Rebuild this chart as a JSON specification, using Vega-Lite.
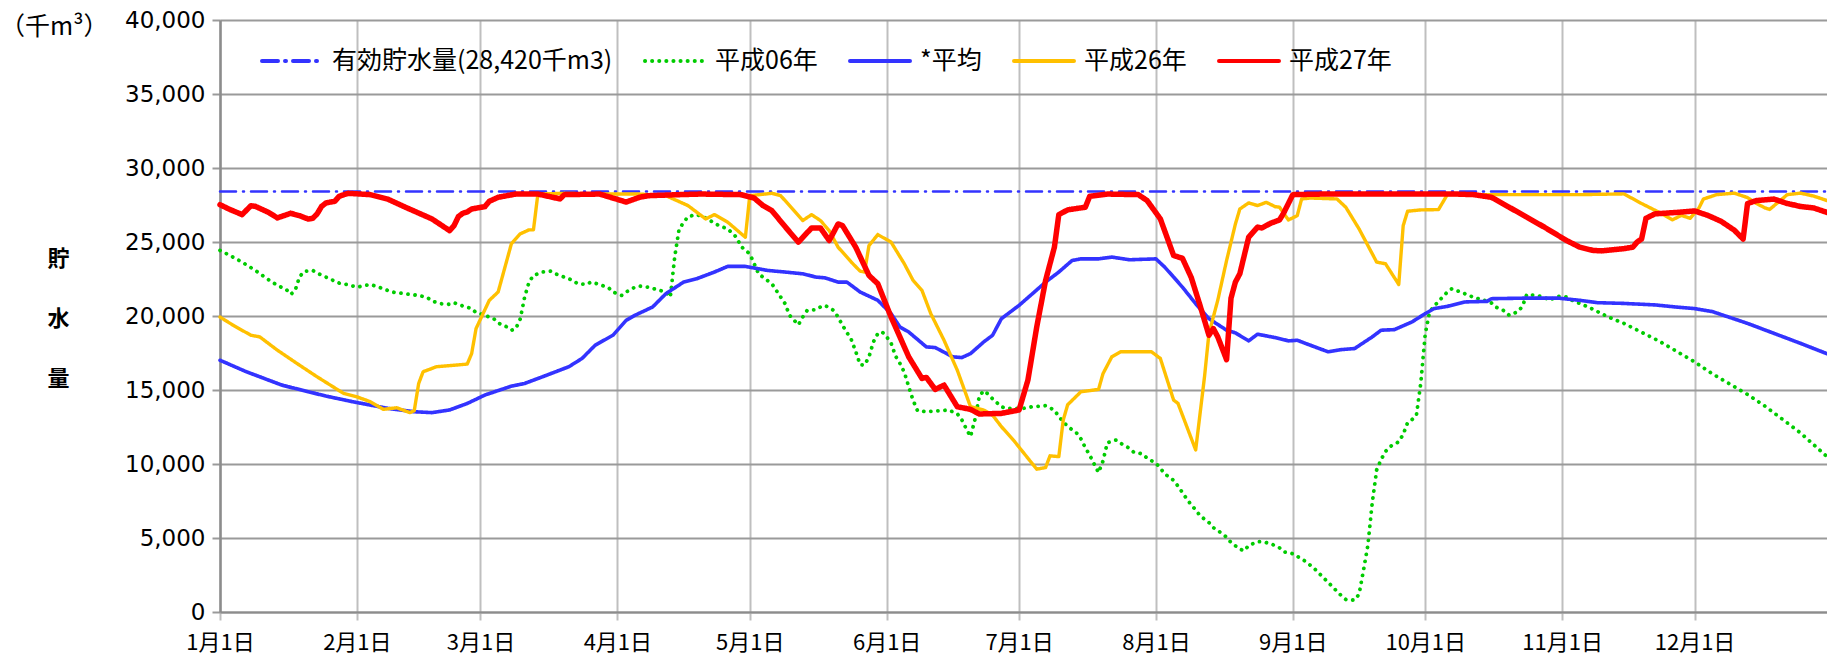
{
"$schema": "https://vega.github.io/schema/vega-lite/v6.json",
"width": 1607, "height": 592,
"autosize": "none",
"padding": {"left": 220, "top": 20, "right": 0, "bottom": 53},
"background": "white",
"title": {"text": "（千m³）", "anchor": "start", "frame": "group", "orient": "top", "offset": 0, "dx": -220, "dy": 31, "fontSize": 25, "font": "Noto Sans CJK JP", "fontWeight": "normal", "color": "#000000"},
"datasets": {
"main": [
{"date":"2015-01-01","series":"有効貯水量(28,420千m3)","value":28420},
{"date":"2015-12-31","series":"有効貯水量(28,420千m3)","value":28420},

{"date":"2015-01-01","series":"平成06年","value":24430},
{"date":"2015-01-03","series":"平成06年","value":24130},
{"date":"2015-01-06","series":"平成06年","value":23640},
{"date":"2015-01-09","series":"平成06年","value":23080},
{"date":"2015-01-12","series":"平成06年","value":22450},
{"date":"2015-01-14","series":"平成06年","value":22070},
{"date":"2015-01-16","series":"平成06年","value":21800},
{"date":"2015-01-17","series":"平成06年","value":21460},
{"date":"2015-01-18","series":"平成06年","value":21700},
{"date":"2015-01-19","series":"平成06年","value":22630},
{"date":"2015-01-20","series":"平成06年","value":23010},
{"date":"2015-01-22","series":"平成06年","value":23080},
{"date":"2015-01-23","series":"平成06年","value":22900},
{"date":"2015-01-25","series":"平成06年","value":22630},
{"date":"2015-01-28","series":"平成06年","value":22220},
{"date":"2015-01-30","series":"平成06年","value":22110},
{"date":"2015-02-01","series":"平成06年","value":21950},
{"date":"2015-02-03","series":"平成06年","value":22070},
{"date":"2015-02-04","series":"平成06年","value":22130},
{"date":"2015-02-06","series":"平成06年","value":21950},
{"date":"2015-02-09","series":"平成06年","value":21620},
{"date":"2015-02-13","series":"平成06年","value":21460},
{"date":"2015-02-15","series":"平成06年","value":21390},
{"date":"2015-02-17","series":"平成06年","value":21240},
{"date":"2015-02-18","series":"平成06年","value":21010},
{"date":"2015-02-20","series":"平成06年","value":20830},
{"date":"2015-02-22","series":"平成06年","value":20790},
{"date":"2015-02-23","series":"平成06年","value":20900},
{"date":"2015-02-25","series":"平成06年","value":20680},
{"date":"2015-02-27","series":"平成06年","value":20500},
{"date":"2015-02-28","series":"平成06年","value":20230},
{"date":"2015-03-02","series":"平成06年","value":20050},
{"date":"2015-03-04","series":"平成06年","value":19820},
{"date":"2015-03-05","series":"平成06年","value":19530},
{"date":"2015-03-07","series":"平成06年","value":19260},
{"date":"2015-03-08","series":"平成06年","value":19040},
{"date":"2015-03-09","series":"平成06年","value":19150},
{"date":"2015-03-10","series":"平成06年","value":19800},
{"date":"2015-03-11","series":"平成06年","value":21280},
{"date":"2015-03-12","series":"平成06年","value":22290},
{"date":"2015-03-13","series":"平成06年","value":22740},
{"date":"2015-03-15","series":"平成06年","value":22970},
{"date":"2015-03-17","series":"平成06年","value":23030},
{"date":"2015-03-18","series":"平成06年","value":22850},
{"date":"2015-03-20","series":"平成06年","value":22630},
{"date":"2015-03-22","series":"平成06年","value":22400},
{"date":"2015-03-23","series":"平成06年","value":22180},
{"date":"2015-03-25","series":"平成06年","value":22130},
{"date":"2015-03-26","series":"平成06年","value":22290},
{"date":"2015-03-28","series":"平成06年","value":22130},
{"date":"2015-03-30","series":"平成06年","value":21910},
{"date":"2015-03-31","series":"平成06年","value":21620},
{"date":"2015-04-02","series":"平成06年","value":21390},
{"date":"2015-04-03","series":"平成06年","value":21620},
{"date":"2015-04-05","series":"平成06年","value":21950},
{"date":"2015-04-06","series":"平成06年","value":22020},
{"date":"2015-04-08","series":"平成06年","value":21950},
{"date":"2015-04-10","series":"平成06年","value":21780},
{"date":"2015-04-12","series":"平成06年","value":21620},
{"date":"2015-04-13","series":"平成06年","value":21280},
{"date":"2015-04-14","series":"平成06年","value":24000},
{"date":"2015-04-15","series":"平成06年","value":25890},
{"date":"2015-04-17","series":"平成06年","value":26720},
{"date":"2015-04-19","series":"平成06年","value":26850},
{"date":"2015-04-21","series":"平成06年","value":26630},
{"date":"2015-04-22","series":"平成06年","value":26450},
{"date":"2015-04-24","series":"平成06年","value":26110},
{"date":"2015-04-26","series":"平成06年","value":25890},
{"date":"2015-04-28","series":"平成06年","value":25320},
{"date":"2015-04-29","series":"平成06年","value":24700},
{"date":"2015-05-01","series":"平成06年","value":24200},
{"date":"2015-05-02","series":"平成06年","value":23530},
{"date":"2015-05-03","series":"平成06年","value":22850},
{"date":"2015-05-05","series":"平成06年","value":22400},
{"date":"2015-05-06","series":"平成06年","value":22180},
{"date":"2015-05-07","series":"平成06年","value":21730},
{"date":"2015-05-08","series":"平成06年","value":21280},
{"date":"2015-05-09","series":"平成06年","value":20830},
{"date":"2015-05-10","series":"平成06年","value":20050},
{"date":"2015-05-12","series":"平成06年","value":19400},
{"date":"2015-05-13","series":"平成06年","value":19930},
{"date":"2015-05-14","series":"平成06年","value":20380},
{"date":"2015-05-16","series":"平成06年","value":20430},
{"date":"2015-05-17","series":"平成06年","value":20610},
{"date":"2015-05-18","series":"平成06年","value":20720},
{"date":"2015-05-20","series":"平成06年","value":20380},
{"date":"2015-05-21","series":"平成06年","value":19930},
{"date":"2015-05-22","series":"平成06年","value":19370},
{"date":"2015-05-24","series":"平成06年","value":18400},
{"date":"2015-05-25","series":"平成06年","value":17600},
{"date":"2015-05-26","series":"平成06年","value":16700},
{"date":"2015-05-27","series":"平成06年","value":16680},
{"date":"2015-05-28","series":"平成06年","value":17240},
{"date":"2015-05-29","series":"平成06年","value":18250},
{"date":"2015-05-30","series":"平成06年","value":18810},
{"date":"2015-05-31","series":"平成06年","value":18920},
{"date":"2015-06-01","series":"平成06年","value":18590},
{"date":"2015-06-02","series":"平成06年","value":18180},
{"date":"2015-06-03","series":"平成06年","value":17300},
{"date":"2015-06-04","series":"平成06年","value":16800},
{"date":"2015-06-05","series":"平成06年","value":16200},
{"date":"2015-06-06","series":"平成06年","value":15220},
{"date":"2015-06-07","series":"平成06年","value":14300},
{"date":"2015-06-08","series":"平成06年","value":13600},
{"date":"2015-06-10","series":"平成06年","value":13530},
{"date":"2015-06-13","series":"平成06年","value":13600},
{"date":"2015-06-15","series":"平成06年","value":13650},
{"date":"2015-06-17","series":"平成06年","value":13400},
{"date":"2015-06-18","series":"平成06年","value":13000},
{"date":"2015-06-19","series":"平成06年","value":12400},
{"date":"2015-06-20","series":"平成06年","value":11850},
{"date":"2015-06-21","series":"平成06年","value":13000},
{"date":"2015-06-22","series":"平成06年","value":14600},
{"date":"2015-06-23","series":"平成06年","value":14950},
{"date":"2015-06-24","series":"平成06年","value":14720},
{"date":"2015-06-25","series":"平成06年","value":14400},
{"date":"2015-06-27","series":"平成06年","value":13870},
{"date":"2015-06-28","series":"平成06年","value":13760},
{"date":"2015-07-02","series":"平成06年","value":13760},
{"date":"2015-07-04","series":"平成06年","value":13870},
{"date":"2015-07-06","series":"平成06年","value":13910},
{"date":"2015-07-07","series":"平成06年","value":13940},
{"date":"2015-07-09","series":"平成06年","value":13640},
{"date":"2015-07-10","series":"平成06年","value":13200},
{"date":"2015-07-11","series":"平成06年","value":12860},
{"date":"2015-07-12","series":"平成06年","value":12540},
{"date":"2015-07-14","series":"平成06年","value":12100},
{"date":"2015-07-15","series":"平成06年","value":11700},
{"date":"2015-07-16","series":"平成06年","value":11100},
{"date":"2015-07-17","series":"平成06年","value":10600},
{"date":"2015-07-18","series":"平成06年","value":10000},
{"date":"2015-07-19","series":"平成06年","value":9420},
{"date":"2015-07-20","series":"平成06年","value":10200},
{"date":"2015-07-21","series":"平成06年","value":11440},
{"date":"2015-07-23","series":"平成06年","value":11620},
{"date":"2015-07-24","series":"平成06年","value":11400},
{"date":"2015-07-26","series":"平成06年","value":11060},
{"date":"2015-07-27","series":"平成06年","value":10790},
{"date":"2015-07-29","series":"平成06年","value":10680},
{"date":"2015-07-30","series":"平成06年","value":10390},
{"date":"2015-08-01","series":"平成06年","value":10050},
{"date":"2015-08-02","series":"平成06年","value":9710},
{"date":"2015-08-03","series":"平成06年","value":9330},
{"date":"2015-08-05","series":"平成06年","value":8900},
{"date":"2015-08-06","series":"平成06年","value":8500},
{"date":"2015-08-07","series":"平成06年","value":8070},
{"date":"2015-08-08","series":"平成06年","value":7630},
{"date":"2015-08-09","series":"平成06年","value":7240},
{"date":"2015-08-10","series":"平成06年","value":6900},
{"date":"2015-08-11","series":"平成06年","value":6500},
{"date":"2015-08-13","series":"平成06年","value":6050},
{"date":"2015-08-14","series":"平成06年","value":5700},
{"date":"2015-08-16","series":"平成06年","value":5300},
{"date":"2015-08-17","series":"平成06年","value":5050},
{"date":"2015-08-18","series":"平成06年","value":4700},
{"date":"2015-08-20","series":"平成06年","value":4250},
{"date":"2015-08-21","series":"平成06年","value":4140},
{"date":"2015-08-22","series":"平成06年","value":4500},
{"date":"2015-08-24","series":"平成06年","value":4750},
{"date":"2015-08-25","series":"平成06年","value":4750},
{"date":"2015-08-27","series":"平成06年","value":4620},
{"date":"2015-08-29","series":"平成06年","value":4330},
{"date":"2015-08-30","series":"平成06年","value":4060},
{"date":"2015-09-01","series":"平成06年","value":3940},
{"date":"2015-09-02","series":"平成06年","value":3760},
{"date":"2015-09-04","series":"平成06年","value":3400},
{"date":"2015-09-06","series":"平成06年","value":2900},
{"date":"2015-09-08","series":"平成06年","value":2300},
{"date":"2015-09-10","series":"平成06年","value":1700},
{"date":"2015-09-12","series":"平成06年","value":1100},
{"date":"2015-09-13","series":"平成06年","value":850},
{"date":"2015-09-15","series":"平成06年","value":800},
{"date":"2015-09-16","series":"平成06年","value":1200},
{"date":"2015-09-17","series":"平成06年","value":2800},
{"date":"2015-09-18","series":"平成06年","value":4500},
{"date":"2015-09-19","series":"平成06年","value":7400},
{"date":"2015-09-20","series":"平成06年","value":9600},
{"date":"2015-09-21","series":"平成06年","value":10300},
{"date":"2015-09-22","series":"平成06年","value":10850},
{"date":"2015-09-23","series":"平成06年","value":11170},
{"date":"2015-09-25","series":"平成06年","value":11500},
{"date":"2015-09-26","series":"平成06年","value":12000},
{"date":"2015-09-27","series":"平成06年","value":12790},
{"date":"2015-09-28","series":"平成06年","value":13000},
{"date":"2015-09-29","series":"平成06年","value":13300},
{"date":"2015-09-30","series":"平成06年","value":15500},
{"date":"2015-10-01","series":"平成06年","value":18800},
{"date":"2015-10-02","series":"平成06年","value":20300},
{"date":"2015-10-04","series":"平成06年","value":21000},
{"date":"2015-10-05","series":"平成06年","value":21300},
{"date":"2015-10-06","series":"平成06年","value":21620},
{"date":"2015-10-07","series":"平成06年","value":21840},
{"date":"2015-10-09","series":"平成06年","value":21620},
{"date":"2015-10-11","series":"平成06年","value":21390},
{"date":"2015-10-12","series":"平成06年","value":21240},
{"date":"2015-10-14","series":"平成06年","value":21100},
{"date":"2015-10-16","series":"平成06年","value":20880},
{"date":"2015-10-17","series":"平成06年","value":20600},
{"date":"2015-10-19","series":"平成06年","value":20340},
{"date":"2015-10-20","series":"平成06年","value":20050},
{"date":"2015-10-22","series":"平成06年","value":20300},
{"date":"2015-10-23","series":"平成06年","value":20650},
{"date":"2015-10-24","series":"平成06年","value":21460},
{"date":"2015-10-26","series":"平成06年","value":21390},
{"date":"2015-10-28","series":"平成06年","value":21280},
{"date":"2015-10-29","series":"平成06年","value":21060},
{"date":"2015-10-31","series":"平成06年","value":21330},
{"date":"2015-11-02","series":"平成06年","value":21280},
{"date":"2015-11-03","series":"平成06年","value":21100},
{"date":"2015-11-07","series":"平成06年","value":20600},
{"date":"2015-11-11","series":"平成06年","value":20000},
{"date":"2015-11-15","series":"平成06年","value":19500},
{"date":"2015-11-19","series":"平成06年","value":18900},
{"date":"2015-11-23","series":"平成06年","value":18300},
{"date":"2015-11-27","series":"平成06年","value":17600},
{"date":"2015-12-01","series":"平成06年","value":16900},
{"date":"2015-12-05","series":"平成06年","value":16100},
{"date":"2015-12-09","series":"平成06年","value":15400},
{"date":"2015-12-13","series":"平成06年","value":14700},
{"date":"2015-12-17","series":"平成06年","value":13900},
{"date":"2015-12-21","series":"平成06年","value":13000},
{"date":"2015-12-25","series":"平成06年","value":12100},
{"date":"2015-12-28","series":"平成06年","value":11300},
{"date":"2015-12-31","series":"平成06年","value":10500},

{"date":"2015-01-01","series":"*平均","value":17010},
{"date":"2015-01-07","series":"*平均","value":16230},
{"date":"2015-01-15","series":"*平均","value":15330},
{"date":"2015-01-21","series":"*平均","value":14880},
{"date":"2015-01-25","series":"*平均","value":14590},
{"date":"2015-01-31","series":"*平均","value":14210},
{"date":"2015-02-08","series":"*平均","value":13760},
{"date":"2015-02-14","series":"*平均","value":13530},
{"date":"2015-02-18","series":"*平均","value":13470},
{"date":"2015-02-22","series":"*平均","value":13650},
{"date":"2015-02-26","series":"*平均","value":14090},
{"date":"2015-03-02","series":"*平均","value":14660},
{"date":"2015-03-08","series":"*平均","value":15260},
{"date":"2015-03-11","series":"*平均","value":15440},
{"date":"2015-03-16","series":"*平均","value":16000},
{"date":"2015-03-21","series":"*平均","value":16570},
{"date":"2015-03-24","series":"*平均","value":17130},
{"date":"2015-03-27","series":"*平均","value":18030},
{"date":"2015-03-31","series":"*平均","value":18700},
{"date":"2015-04-03","series":"*平均","value":19710},
{"date":"2015-04-05","series":"*平均","value":20050},
{"date":"2015-04-09","series":"*平均","value":20610},
{"date":"2015-04-12","series":"*平均","value":21510},
{"date":"2015-04-16","series":"*平均","value":22290},
{"date":"2015-04-19","series":"*平均","value":22520},
{"date":"2015-04-23","series":"*平均","value":22970},
{"date":"2015-04-26","series":"*平均","value":23350},
{"date":"2015-04-30","series":"*平均","value":23350},
{"date":"2015-05-05","series":"*平均","value":23080},
{"date":"2015-05-09","series":"*平均","value":22970},
{"date":"2015-05-13","series":"*平均","value":22850},
{"date":"2015-05-16","series":"*平均","value":22630},
{"date":"2015-05-18","series":"*平均","value":22580},
{"date":"2015-05-21","series":"*平均","value":22290},
{"date":"2015-05-23","series":"*平均","value":22290},
{"date":"2015-05-26","series":"*平均","value":21620},
{"date":"2015-05-30","series":"*平均","value":21060},
{"date":"2015-06-02","series":"*平均","value":20160},
{"date":"2015-06-04","series":"*平均","value":19260},
{"date":"2015-06-06","series":"*平均","value":18920},
{"date":"2015-06-10","series":"*平均","value":17910},
{"date":"2015-06-12","series":"*平均","value":17870},
{"date":"2015-06-16","series":"*平均","value":17240},
{"date":"2015-06-18","series":"*平均","value":17190},
{"date":"2015-06-20","series":"*平均","value":17460},
{"date":"2015-06-23","series":"*平均","value":18250},
{"date":"2015-06-25","series":"*平均","value":18700},
{"date":"2015-06-27","series":"*平均","value":19820},
{"date":"2015-07-01","series":"*平均","value":20720},
{"date":"2015-07-04","series":"*平均","value":21500},
{"date":"2015-07-07","series":"*平均","value":22290},
{"date":"2015-07-10","series":"*平均","value":22970},
{"date":"2015-07-13","series":"*平均","value":23750},
{"date":"2015-07-15","series":"*平均","value":23860},
{"date":"2015-07-19","series":"*平均","value":23860},
{"date":"2015-07-22","series":"*平均","value":23980},
{"date":"2015-07-26","series":"*平均","value":23800},
{"date":"2015-08-01","series":"*平均","value":23860},
{"date":"2015-08-03","series":"*平均","value":23300},
{"date":"2015-08-05","series":"*平均","value":22630},
{"date":"2015-08-07","series":"*平均","value":21950},
{"date":"2015-08-10","series":"*平均","value":20830},
{"date":"2015-08-13","series":"*平均","value":19820},
{"date":"2015-08-17","series":"*平均","value":19040},
{"date":"2015-08-19","series":"*平均","value":18860},
{"date":"2015-08-22","series":"*平均","value":18320},
{"date":"2015-08-24","series":"*平均","value":18770},
{"date":"2015-08-28","series":"*平均","value":18540},
{"date":"2015-08-31","series":"*平均","value":18320},
{"date":"2015-09-02","series":"*平均","value":18360},
{"date":"2015-09-06","series":"*平均","value":17910},
{"date":"2015-09-09","series":"*平均","value":17580},
{"date":"2015-09-12","series":"*平均","value":17730},
{"date":"2015-09-15","series":"*平均","value":17800},
{"date":"2015-09-19","series":"*平均","value":18590},
{"date":"2015-09-21","series":"*平均","value":19040},
{"date":"2015-09-24","series":"*平均","value":19080},
{"date":"2015-09-28","series":"*平均","value":19600},
{"date":"2015-10-01","series":"*平均","value":20160},
{"date":"2015-10-03","series":"*平均","value":20500},
{"date":"2015-10-06","series":"*平均","value":20650},
{"date":"2015-10-10","series":"*平均","value":20950},
{"date":"2015-10-15","series":"*平均","value":20990},
{"date":"2015-10-16","series":"*平均","value":21170},
{"date":"2015-10-24","series":"*平均","value":21210},
{"date":"2015-10-31","series":"*平均","value":21210},
{"date":"2015-11-05","series":"*平均","value":21060},
{"date":"2015-11-09","series":"*平均","value":20900},
{"date":"2015-11-15","series":"*平均","value":20850},
{"date":"2015-11-22","series":"*平均","value":20750},
{"date":"2015-11-27","series":"*平均","value":20600},
{"date":"2015-12-01","series":"*平均","value":20500},
{"date":"2015-12-05","series":"*平均","value":20300},
{"date":"2015-12-09","series":"*平均","value":19900},
{"date":"2015-12-13","series":"*平均","value":19500},
{"date":"2015-12-17","series":"*平均","value":19050},
{"date":"2015-12-21","series":"*平均","value":18600},
{"date":"2015-12-25","series":"*平均","value":18150},
{"date":"2015-12-28","series":"*平均","value":17800},
{"date":"2015-12-31","series":"*平均","value":17450},

{"date":"2015-01-01","series":"平成26年","value":19930},
{"date":"2015-01-04","series":"平成26年","value":19370},
{"date":"2015-01-08","series":"平成26年","value":18700},
{"date":"2015-01-10","series":"平成26年","value":18590},
{"date":"2015-01-14","series":"平成26年","value":17690},
{"date":"2015-01-19","series":"平成26年","value":16680},
{"date":"2015-01-23","series":"平成26年","value":15890},
{"date":"2015-01-26","series":"平成26年","value":15330},
{"date":"2015-01-29","series":"平成26年","value":14770},
{"date":"2015-02-01","series":"平成26年","value":14540},
{"date":"2015-02-04","series":"平成26年","value":14210},
{"date":"2015-02-07","series":"平成26年","value":13690},
{"date":"2015-02-10","series":"平成26年","value":13800},
{"date":"2015-02-13","series":"平成26年","value":13470},
{"date":"2015-02-14","series":"平成26年","value":13600},
{"date":"2015-02-15","series":"平成26年","value":15440},
{"date":"2015-02-16","series":"平成26年","value":16230},
{"date":"2015-02-19","series":"平成26年","value":16570},
{"date":"2015-02-26","series":"平成26年","value":16750},
{"date":"2015-02-27","series":"平成26年","value":17460},
{"date":"2015-02-28","series":"平成26年","value":19150},
{"date":"2015-03-03","series":"平成26年","value":21060},
{"date":"2015-03-05","series":"平成26年","value":21620},
{"date":"2015-03-08","series":"平成26年","value":24880},
{"date":"2015-03-10","series":"平成26年","value":25550},
{"date":"2015-03-12","series":"平成26年","value":25820},
{"date":"2015-03-13","series":"平成26年","value":25820},
{"date":"2015-03-14","series":"平成26年","value":28240},
{"date":"2015-03-20","series":"平成26年","value":28290},
{"date":"2015-03-27","series":"平成26年","value":28240},
{"date":"2015-04-06","series":"平成26年","value":28240},
{"date":"2015-04-12","series":"平成26年","value":28130},
{"date":"2015-04-17","series":"平成26年","value":27460},
{"date":"2015-04-21","series":"平成26年","value":26560},
{"date":"2015-04-23","series":"平成26年","value":26850},
{"date":"2015-04-26","series":"平成26年","value":26340},
{"date":"2015-04-30","series":"平成26年","value":25320},
{"date":"2015-05-01","series":"平成26年","value":28130},
{"date":"2015-05-06","series":"平成26年","value":28290},
{"date":"2015-05-08","series":"平成26年","value":28130},
{"date":"2015-05-13","series":"平成26年","value":26450},
{"date":"2015-05-15","series":"平成26年","value":26850},
{"date":"2015-05-17","series":"平成26年","value":26450},
{"date":"2015-05-19","series":"平成26年","value":25770},
{"date":"2015-05-21","series":"平成26年","value":24650},
{"date":"2015-05-24","series":"平成26年","value":23640},
{"date":"2015-05-26","series":"平成26年","value":23030},
{"date":"2015-05-27","series":"平成26年","value":22970},
{"date":"2015-05-28","series":"平成26年","value":24760},
{"date":"2015-05-30","series":"平成26年","value":25500},
{"date":"2015-06-02","series":"平成26年","value":24990},
{"date":"2015-06-05","series":"平成26年","value":23530},
{"date":"2015-06-07","series":"平成26年","value":22400},
{"date":"2015-06-09","series":"平成26年","value":21730},
{"date":"2015-06-11","series":"平成26年","value":20160},
{"date":"2015-06-14","series":"平成26年","value":18360},
{"date":"2015-06-17","series":"平成26年","value":16340},
{"date":"2015-06-20","series":"平成26年","value":13870},
{"date":"2015-06-23","series":"平成26年","value":13640},
{"date":"2015-06-25","series":"平成26年","value":13300},
{"date":"2015-06-27","series":"平成26年","value":12520},
{"date":"2015-06-30","series":"平成26年","value":11510},
{"date":"2015-07-03","series":"平成26年","value":10390},
{"date":"2015-07-05","series":"平成26年","value":9650},
{"date":"2015-07-07","series":"平成26年","value":9760},
{"date":"2015-07-08","series":"平成26年","value":10550},
{"date":"2015-07-10","series":"平成26年","value":10500},
{"date":"2015-07-11","series":"平成26年","value":12970},
{"date":"2015-07-12","series":"平成26年","value":14000},
{"date":"2015-07-15","series":"平成26年","value":14880},
{"date":"2015-07-19","series":"平成26年","value":15040},
{"date":"2015-07-20","series":"平成26年","value":16100},
{"date":"2015-07-22","series":"平成26年","value":17240},
{"date":"2015-07-24","series":"平成26年","value":17580},
{"date":"2015-07-31","series":"平成26年","value":17580},
{"date":"2015-08-02","series":"平成26年","value":17130},
{"date":"2015-08-05","series":"平成26年","value":14320},
{"date":"2015-08-06","series":"平成26年","value":14090},
{"date":"2015-08-10","series":"平成26年","value":10950},
{"date":"2015-08-12","series":"平成26年","value":15890},
{"date":"2015-08-13","series":"平成26年","value":18810},
{"date":"2015-08-15","series":"平成26年","value":21060},
{"date":"2015-08-17","series":"平成26年","value":23750},
{"date":"2015-08-19","series":"平成26年","value":26220},
{"date":"2015-08-20","series":"平成26年","value":27230},
{"date":"2015-08-22","series":"平成26年","value":27640},
{"date":"2015-08-24","series":"平成26年","value":27460},
{"date":"2015-08-26","series":"平成26年","value":27680},
{"date":"2015-08-28","series":"平成26年","value":27390},
{"date":"2015-08-29","series":"平成26年","value":27350},
{"date":"2015-08-31","series":"平成26年","value":26490},
{"date":"2015-09-02","series":"平成26年","value":26780},
{"date":"2015-09-03","series":"平成26年","value":27910},
{"date":"2015-09-05","series":"平成26年","value":27970},
{"date":"2015-09-11","series":"平成26年","value":27910},
{"date":"2015-09-13","series":"平成26年","value":27350},
{"date":"2015-09-16","series":"平成26年","value":25890},
{"date":"2015-09-20","series":"平成26年","value":23640},
{"date":"2015-09-22","series":"平成26年","value":23530},
{"date":"2015-09-25","series":"平成26年","value":22130},
{"date":"2015-09-26","series":"平成26年","value":26100},
{"date":"2015-09-27","series":"平成26年","value":27080},
{"date":"2015-09-30","series":"平成26年","value":27170},
{"date":"2015-10-04","series":"平成26年","value":27190},
{"date":"2015-10-06","series":"平成26年","value":28200},
{"date":"2015-10-16","series":"平成26年","value":28200},
{"date":"2015-11-05","series":"平成26年","value":28200},
{"date":"2015-11-15","series":"平成26年","value":28250},
{"date":"2015-11-19","series":"平成26年","value":27600},
{"date":"2015-11-23","series":"平成26年","value":27000},
{"date":"2015-11-26","series":"平成26年","value":26500},
{"date":"2015-11-28","series":"平成26年","value":26800},
{"date":"2015-11-30","series":"平成26年","value":26600},
{"date":"2015-12-02","series":"平成26年","value":27300},
{"date":"2015-12-03","series":"平成26年","value":27900},
{"date":"2015-12-06","series":"平成26年","value":28200},
{"date":"2015-12-10","series":"平成26年","value":28300},
{"date":"2015-12-13","series":"平成26年","value":28000},
{"date":"2015-12-15","series":"平成26年","value":27600},
{"date":"2015-12-17","series":"平成26年","value":27300},
{"date":"2015-12-18","series":"平成26年","value":27200},
{"date":"2015-12-20","series":"平成26年","value":27700},
{"date":"2015-12-22","series":"平成26年","value":28200},
{"date":"2015-12-25","series":"平成26年","value":28300},
{"date":"2015-12-28","series":"平成26年","value":28100},
{"date":"2015-12-31","series":"平成26年","value":27800},

{"date":"2015-01-01","series":"平成27年","value":27520},
{"date":"2015-01-03","series":"平成27年","value":27230},
{"date":"2015-01-06","series":"平成27年","value":26850},
{"date":"2015-01-08","series":"平成27年","value":27450},
{"date":"2015-01-09","series":"平成27年","value":27410},
{"date":"2015-01-12","series":"平成27年","value":27000},
{"date":"2015-01-14","series":"平成27年","value":26630},
{"date":"2015-01-17","series":"平成27年","value":26940},
{"date":"2015-01-19","series":"平成27年","value":26780},
{"date":"2015-01-21","series":"平成27年","value":26550},
{"date":"2015-01-22","series":"平成27年","value":26600},
{"date":"2015-01-23","series":"平成27年","value":26900},
{"date":"2015-01-24","series":"平成27年","value":27400},
{"date":"2015-01-25","series":"平成27年","value":27640},
{"date":"2015-01-27","series":"平成27年","value":27750},
{"date":"2015-01-28","series":"平成27年","value":28090},
{"date":"2015-01-30","series":"平成27年","value":28290},
{"date":"2015-02-04","series":"平成27年","value":28200},
{"date":"2015-02-08","series":"平成27年","value":27900},
{"date":"2015-02-12","series":"平成27年","value":27350},
{"date":"2015-02-18","series":"平成27年","value":26560},
{"date":"2015-02-22","series":"平成27年","value":25770},
{"date":"2015-02-23","series":"平成27年","value":26100},
{"date":"2015-02-24","series":"平成27年","value":26720},
{"date":"2015-02-25","series":"平成27年","value":26940},
{"date":"2015-02-26","series":"平成27年","value":27030},
{"date":"2015-02-27","series":"平成27年","value":27230},
{"date":"2015-03-02","series":"平成27年","value":27390},
{"date":"2015-03-03","series":"平成27年","value":27750},
{"date":"2015-03-05","series":"平成27年","value":28020},
{"date":"2015-03-09","series":"平成27年","value":28240},
{"date":"2015-03-14","series":"平成27年","value":28240},
{"date":"2015-03-19","series":"平成27年","value":27910},
{"date":"2015-03-20","series":"平成27年","value":28200},
{"date":"2015-03-28","series":"平成27年","value":28240},
{"date":"2015-03-31","series":"平成27年","value":27970},
{"date":"2015-04-03","series":"平成27年","value":27700},
{"date":"2015-04-06","series":"平成27年","value":28020},
{"date":"2015-04-08","series":"平成27年","value":28130},
{"date":"2015-04-15","series":"平成27年","value":28200},
{"date":"2015-04-20","series":"平成27年","value":28240},
{"date":"2015-04-29","series":"平成27年","value":28200},
{"date":"2015-05-02","series":"平成27年","value":27970},
{"date":"2015-05-04","series":"平成27年","value":27460},
{"date":"2015-05-06","series":"平成27年","value":27120},
{"date":"2015-05-09","series":"平成27年","value":26040},
{"date":"2015-05-12","series":"平成27年","value":24990},
{"date":"2015-05-15","series":"平成27年","value":25950},
{"date":"2015-05-17","series":"平成27年","value":25950},
{"date":"2015-05-19","series":"平成27年","value":25100},
{"date":"2015-05-21","series":"平成27年","value":26220},
{"date":"2015-05-22","series":"平成27年","value":26110},
{"date":"2015-05-25","series":"平成27年","value":24650},
{"date":"2015-05-28","series":"平成27年","value":22740},
{"date":"2015-05-30","series":"平成27年","value":22180},
{"date":"2015-06-02","series":"平成27年","value":19930},
{"date":"2015-06-04","series":"平成27年","value":18590},
{"date":"2015-06-06","series":"平成27年","value":17240},
{"date":"2015-06-09","series":"平成27年","value":15780},
{"date":"2015-06-10","series":"平成27年","value":15850},
{"date":"2015-06-12","series":"平成27年","value":15040},
{"date":"2015-06-14","series":"平成27年","value":15330},
{"date":"2015-06-17","series":"平成27年","value":13870},
{"date":"2015-06-20","series":"平成27年","value":13690},
{"date":"2015-06-22","series":"平成27年","value":13380},
{"date":"2015-06-27","series":"平成27年","value":13420},
{"date":"2015-07-01","series":"平成27年","value":13650},
{"date":"2015-07-03","series":"平成27年","value":15670},
{"date":"2015-07-05","series":"平成27年","value":19260},
{"date":"2015-07-07","series":"平成27年","value":22400},
{"date":"2015-07-09","series":"平成27年","value":24650},
{"date":"2015-07-10","series":"平成27年","value":26850},
{"date":"2015-07-12","series":"平成27年","value":27170},
{"date":"2015-07-16","series":"平成27年","value":27350},
{"date":"2015-07-17","series":"平成27年","value":28090},
{"date":"2015-07-21","series":"平成27年","value":28240},
{"date":"2015-07-28","series":"平成27年","value":28200},
{"date":"2015-07-30","series":"平成27年","value":27800},
{"date":"2015-08-02","series":"平成27年","value":26560},
{"date":"2015-08-05","series":"平成27年","value":24090},
{"date":"2015-08-07","series":"平成27年","value":23900},
{"date":"2015-08-09","series":"平成27年","value":22600},
{"date":"2015-08-11","series":"平成27年","value":20700},
{"date":"2015-08-13","series":"平成27年","value":18700},
{"date":"2015-08-14","series":"平成27年","value":19150},
{"date":"2015-08-15","series":"平成27年","value":18590},
{"date":"2015-08-17","series":"平成27年","value":17050},
{"date":"2015-08-18","series":"平成27年","value":21200},
{"date":"2015-08-19","series":"平成27年","value":22300},
{"date":"2015-08-20","series":"平成27年","value":22850},
{"date":"2015-08-22","series":"平成27年","value":25320},
{"date":"2015-08-24","series":"平成27年","value":26000},
{"date":"2015-08-25","series":"平成27年","value":25950},
{"date":"2015-08-27","series":"平成27年","value":26270},
{"date":"2015-08-29","series":"平成27年","value":26490},
{"date":"2015-08-30","series":"平成27年","value":27000},
{"date":"2015-09-01","series":"平成27年","value":28200},
{"date":"2015-09-08","series":"平成27年","value":28240},
{"date":"2015-09-23","series":"平成27年","value":28240},
{"date":"2015-10-08","series":"平成27年","value":28240},
{"date":"2015-10-12","series":"平成27年","value":28200},
{"date":"2015-10-16","series":"平成27年","value":28020},
{"date":"2015-10-20","series":"平成27年","value":27350},
{"date":"2015-10-28","series":"平成27年","value":26000},
{"date":"2015-11-02","series":"平成27年","value":25100},
{"date":"2015-11-05","series":"平成27年","value":24650},
{"date":"2015-11-08","series":"平成27年","value":24430},
{"date":"2015-11-10","series":"平成27年","value":24400},
{"date":"2015-11-15","series":"平成27年","value":24550},
{"date":"2015-11-17","series":"平成27年","value":24650},
{"date":"2015-11-18","series":"平成27年","value":25000},
{"date":"2015-11-19","series":"平成27年","value":25200},
{"date":"2015-11-20","series":"平成27年","value":26600},
{"date":"2015-11-22","series":"平成27年","value":26900},
{"date":"2015-11-27","series":"平成27年","value":27000},
{"date":"2015-12-01","series":"平成27年","value":27100},
{"date":"2015-12-04","series":"平成27年","value":26800},
{"date":"2015-12-07","series":"平成27年","value":26400},
{"date":"2015-12-10","series":"平成27年","value":25800},
{"date":"2015-12-12","series":"平成27年","value":25200},
{"date":"2015-12-13","series":"平成27年","value":27600},
{"date":"2015-12-15","series":"平成27年","value":27800},
{"date":"2015-12-19","series":"平成27年","value":27900},
{"date":"2015-12-22","series":"平成27年","value":27600},
{"date":"2015-12-25","series":"平成27年","value":27400},
{"date":"2015-12-28","series":"平成27年","value":27300},
{"date":"2015-12-31","series":"平成27年","value":27000}
]
},
"data": {"name": "main"},
"encoding": {
  "x": {"field": "date", "type": "temporal",
    "scale": {"type": "utc", "domain": [{"year": 2015, "month": 1, "date": 1, "utc": true}, {"year": 2015, "month": 12, "date": 31, "utc": true}]},
    "axis": {"title": null, "format": "%-m月%-d日",
      "values": [{"year":2015,"month":1,"date":1,"utc":true},{"year":2015,"month":2,"date":1,"utc":true},{"year":2015,"month":3,"date":1,"utc":true},{"year":2015,"month":4,"date":1,"utc":true},{"year":2015,"month":5,"date":1,"utc":true},{"year":2015,"month":6,"date":1,"utc":true},{"year":2015,"month":7,"date":1,"utc":true},{"year":2015,"month":8,"date":1,"utc":true},{"year":2015,"month":9,"date":1,"utc":true},{"year":2015,"month":10,"date":1,"utc":true},{"year":2015,"month":11,"date":1,"utc":true},{"year":2015,"month":12,"date":1,"utc":true}],
      "grid": true, "gridColor": "#BFBFBF", "gridWidth": 2,
      "domainColor": "#8C8C8C", "domainWidth": 2,
      "tickColor": "#BFBFBF", "tickWidth": 2, "tickSize": 8,
      "labelFont": "Noto Sans CJK JP", "labelFontSize": 22, "labelColor": "#000000",
      "labelPadding": 12, "labelAngle": 0, "labelAlign": "center", "labelFlush": false, "labelOverlap": false}},
  "y": {"field": "value", "type": "quantitative",
    "scale": {"domain": [0, 40000], "nice": false, "zero": true},
    "axis": {"title": ["貯", "水", "量"], "titleAngle": 0, "titleAlign": "center", "titleBaseline": "top",
      "titleX": -162, "titleY": 228, "titleLineHeight": 60, "titleFont": "Noto Sans CJK JP", "titleFontSize": 22, "titleFontWeight": "bold", "titleColor": "#000000",
      "values": [0, 5000, 10000, 15000, 20000, 25000, 30000, 35000, 40000], "format": ",.0f",
      "grid": true, "gridColor": "#9A9A9A", "gridWidth": 2,
      "domainColor": "#8C8C8C", "domainWidth": 2.5,
      "tickColor": "#9A9A9A", "tickWidth": 2, "tickSize": 8,
      "labelFont": "DejaVu Sans", "labelFontSize": 23, "labelColor": "#000000", "labelPadding": 7}},
  "color": {"field": "series", "type": "nominal",
    "scale": {"domain": ["有効貯水量(28,420千m3)", "平成06年", "*平均", "平成26年", "平成27年"], "range": ["#3333FF", "#00CC00", "#3333FF", "#FFC000", "#FF0000"]},
    "legend": {"title": null, "encode": {"symbols": {"update": {"strokeCap": {"value": "round"}}}}}},
  "strokeDash": {"field": "series", "type": "nominal",
    "scale": {"domain": ["有効貯水量(28,420千m3)", "平成06年", "*平均", "平成26年", "平成27年"], "range": [[16, 7, 1, 7], [0.1, 7], [1, 0], [1, 0], [1, 0]]},
    "legend": {"title": null, "encode": {"symbols": {"update": {"strokeCap": {"value": "round"}}}}}}
},
"layer": [
  {"transform": [{"filter": {"field": "series", "equal": "有効貯水量(28,420千m3)"}}], "mark": {"type": "line", "strokeWidth": 2.5, "strokeCap": "round"}},
  {"transform": [{"filter": {"field": "series", "equal": "平成06年"}}], "mark": {"type": "line", "strokeWidth": 3.8, "strokeCap": "round", "strokeJoin": "round"}},
  {"transform": [{"filter": {"field": "series", "equal": "*平均"}}], "mark": {"type": "line", "strokeWidth": 3.6, "strokeCap": "round", "strokeJoin": "round"}},
  {"transform": [{"filter": {"field": "series", "equal": "平成26年"}}], "mark": {"type": "line", "strokeWidth": 3.4, "strokeCap": "round", "strokeJoin": "round"}},
  {"transform": [{"filter": {"field": "series", "equal": "平成27年"}}], "mark": {"type": "line", "strokeWidth": 5.5, "strokeCap": "round", "strokeJoin": "round"}}
],
"config": {
  "view": {"stroke": null},
  "legend": {"orient": "none", "legendX": 40, "legendY": 9, "direction": "horizontal",
    "symbolType": "stroke", "symbolSize": 3600, "symbolStrokeWidth": 4,
    "labelFont": "Noto Sans CJK JP", "labelFontSize": 25, "labelColor": "#000000",
    "labelOffset": 8, "columnPadding": 24, "labelLimit": 500, "padding": 0}
}
}
